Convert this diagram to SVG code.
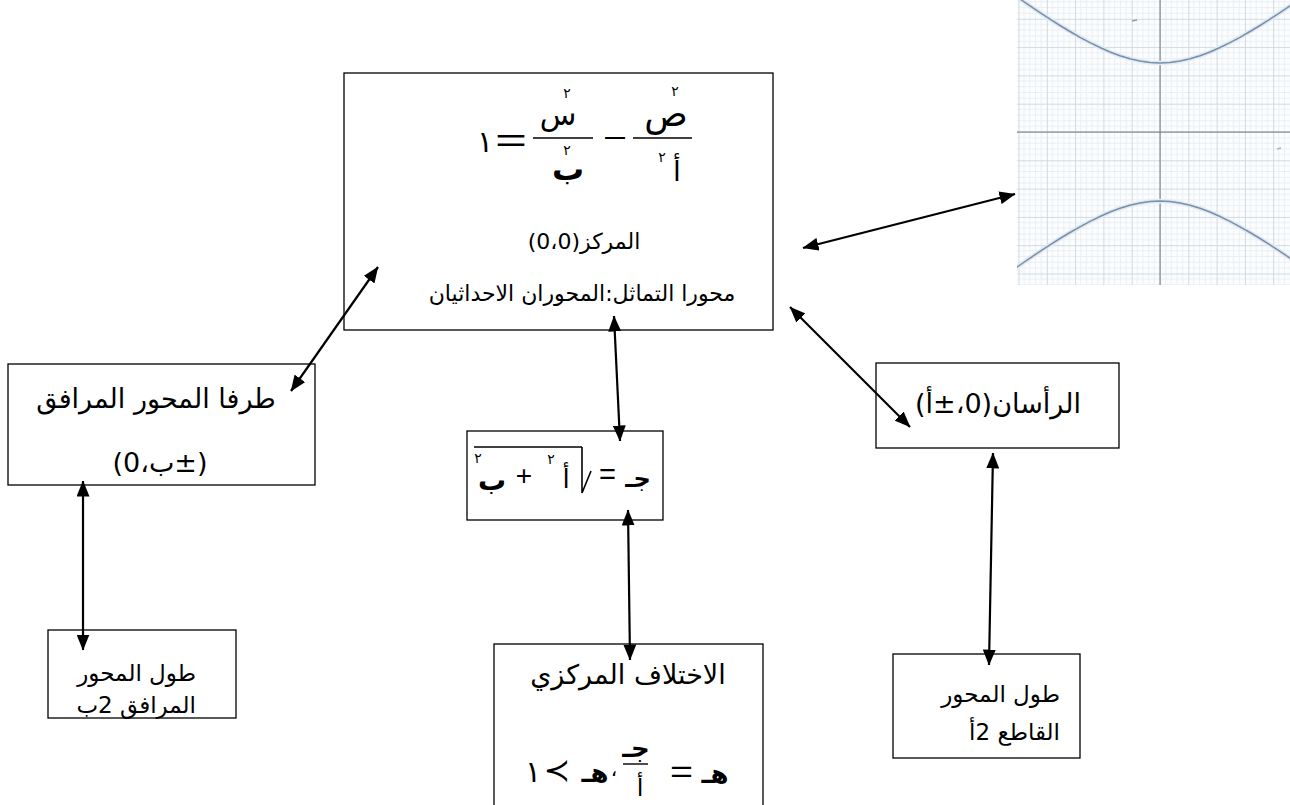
<svg xmlns="http://www.w3.org/2000/svg" width="1290" height="805" viewBox="0 0 1290 805">
  <style>
    .box { fill: #ffffff; stroke: #000000; stroke-width: 1.3; }
    .ar { font-family: "DejaVu Sans", "Noto Sans", sans-serif; fill: #000000; }
    .lat { font-family: "Liberation Sans", "DejaVu Sans", sans-serif; fill: #000000; }
    .math { font-family: "DejaVu Sans", sans-serif; fill: #000000; }
    .bar { stroke: #000000; stroke-width: 1.4; }
    .conn line { stroke: #000000; stroke-width: 2.2; marker-start: url(#ah); marker-end: url(#ah); }
    .grid-minor { stroke: #eaeff3; stroke-width: 1; }
    .grid-major { stroke: #d0d9e1; stroke-width: 1; }
  </style>
  <defs>
    <marker id="ah" viewBox="0 0 16 13" refX="15.5" refY="6.5" markerWidth="16" markerHeight="13" orient="auto-start-reverse" markerUnits="userSpaceOnUse">
      <path d="M0,0 L16,6.5 L0,13 z" fill="#000000"/>
    </marker>
    <pattern id="gridpat" x="1160" y="132" width="28.3" height="28.3" patternUnits="userSpaceOnUse">
      <path class="grid-minor" d="M5.66,0 V28.3 M11.32,0 V28.3 M16.98,0 V28.3 M22.64,0 V28.3 M0,5.66 H28.3 M0,11.32 H28.3 M0,16.98 H28.3 M0,22.64 H28.3"/>
      <path class="grid-major" d="M0.5,0 V28.3 M0,0.5 H28.3"/>
    </pattern>
    <clipPath id="plotclip">
      <rect x="1017" y="0" width="273" height="285"/>
    </clipPath>
  </defs>

  <rect width="1290" height="805" fill="#ffffff"/>

  <!-- hyperbola plot -->
  <g id="plot" clip-path="url(#plotclip)">
    <rect x="1017" y="0" width="273" height="285" fill="#fcfdfe"/>
    <rect x="1017" y="0" width="273" height="285" fill="url(#gridpat)"/>
    <line x1="1160" y1="0" x2="1160" y2="285" stroke="#70767c" stroke-width="1"/>
    <line x1="1017" y1="132" x2="1290" y2="132" stroke="#70767c" stroke-width="1"/>
    <g fill="none" stroke-linejoin="round">
      <polyline stroke="#dfeaf5" stroke-width="4.5" points="1010,-8 1020,-1 1030,5.9 1040,12.6 1050,19.2 1060,25.5 1070,31.5 1080,37.3 1090,42.6 1100,47.5 1110,52 1120,55.7 1130,58.8 1140,61.1 1150,62.5 1160,63 1170,62.5 1180,61.1 1190,58.8 1200,55.7 1210,52 1220,47.5 1230,42.6 1240,37.3 1250,31.5 1260,25.5 1270,19.2 1280,12.6 1290,5.9 1300,-1"/>
      <polyline stroke="#dfeaf5" stroke-width="4.5" points="1010,272 1020,265 1030,258.1 1040,251.4 1050,244.9 1060,238.5 1070,232.5 1080,226.8 1090,221.4 1100,216.5 1110,212 1120,208.3 1130,205.2 1140,202.9 1150,201.5 1160,201 1170,201.5 1180,202.9 1190,205.2 1200,208.3 1210,212 1220,216.5 1230,221.4 1240,226.8 1250,232.5 1260,238.5 1270,244.9 1280,251.4 1290,258.1 1300,265"/>
      <polyline stroke="#7b90a8" stroke-width="1.5" points="1010,-8 1020,-1 1030,5.9 1040,12.6 1050,19.2 1060,25.5 1070,31.5 1080,37.3 1090,42.6 1100,47.5 1110,52 1120,55.7 1130,58.8 1140,61.1 1150,62.5 1160,63 1170,62.5 1180,61.1 1190,58.8 1200,55.7 1210,52 1220,47.5 1230,42.6 1240,37.3 1250,31.5 1260,25.5 1270,19.2 1280,12.6 1290,5.9 1300,-1"/>
      <polyline stroke="#7b90a8" stroke-width="1.5" points="1010,272 1020,265 1030,258.1 1040,251.4 1050,244.9 1060,238.5 1070,232.5 1080,226.8 1090,221.4 1100,216.5 1110,212 1120,208.3 1130,205.2 1140,202.9 1150,201.5 1160,201 1170,201.5 1180,202.9 1190,205.2 1200,208.3 1210,212 1220,216.5 1230,221.4 1240,226.8 1250,232.5 1260,238.5 1270,244.9 1280,251.4 1290,258.1 1300,265"/>
    </g>
    <line x1="1132" y1="21" x2="1137" y2="20" stroke="#9a9a9a" stroke-width="1.5"/>
    <line x1="1277" y1="149" x2="1281" y2="148" stroke="#b0b0b0" stroke-width="1.5"/>
  </g>

  <!-- central equation box -->
  <g id="node-equation">
    <rect class="box" x="344" y="73" width="429" height="257"/>
    <text class="math" x="485" y="152" font-size="30" text-anchor="middle">١</text>
    <text class="lat" x="495" y="152" font-size="34" textLength="32" lengthAdjust="spacingAndGlyphs">=</text>
    <line class="bar" x1="533" y1="138" x2="593" y2="138"/>
    <text class="math"><tspan x="558" y="125" font-size="30" text-anchor="middle">س</tspan><tspan x="567" y="98" font-size="14" text-anchor="middle">٢</tspan></text>
    <text class="math"><tspan x="567" y="155" font-size="14" text-anchor="middle">٢</tspan><tspan x="568" y="180" font-size="32" font-weight="bold" text-anchor="middle">ب</tspan></text>
    <text class="lat" x="603" y="148" font-size="30" textLength="24" lengthAdjust="spacingAndGlyphs">−</text>
    <line class="bar" x1="633" y1="138" x2="692" y2="138"/>
    <text class="math"><tspan x="666" y="126" font-size="36" text-anchor="middle">ص</tspan><tspan x="675" y="96" font-size="14" text-anchor="middle">٢</tspan></text>
    <text class="math"><tspan x="662" y="162" font-size="14" text-anchor="middle">٢</tspan><tspan x="677" y="181" font-size="28" text-anchor="middle">أ</tspan></text>
    <text class="ar" x="584" y="249" font-size="22" text-anchor="middle" direction="rtl">المركز(0،0)</text>
    <text class="ar" x="582" y="301" font-size="22" text-anchor="middle" direction="rtl">محورا التماثل:المحوران الاحداثيان</text>
  </g>

  <!-- conjugate axis endpoints -->
  <g id="node-conjugate-ends">
    <rect class="box" x="8" y="364" width="307" height="121"/>
    <text class="ar" x="156" y="408" font-size="27" text-anchor="middle" direction="rtl">طرفا المحور المرافق</text>
    <text class="ar" x="160" y="472" font-size="27" text-anchor="middle" direction="rtl">(±ب،0)</text>
  </g>

  <!-- focal distance -->
  <g id="node-focal">
    <rect class="box" x="467" y="431" width="196" height="89"/>
    <line class="bar" x1="474" y1="447" x2="582" y2="447"/>
    <text class="math"><tspan x="478" y="463" font-size="14" text-anchor="middle">٢</tspan><tspan x="492" y="490" font-size="28" font-weight="bold" text-anchor="middle">ب</tspan></text>
    <text class="lat" x="524" y="485" font-size="28" text-anchor="middle">+</text>
    <text class="math"><tspan x="551" y="464" font-size="14" text-anchor="middle">٢</tspan><tspan x="566" y="488" font-size="26" text-anchor="middle">أ</tspan></text>
    <path d="M582,447 V493 L591,471" fill="none" stroke="#000" stroke-width="1.6"/>
    <text class="lat" x="599" y="484" font-size="30" textLength="17" lengthAdjust="spacingAndGlyphs">=</text>
    <text class="math" x="638" y="487" font-size="24" font-weight="bold" text-anchor="middle">جـ</text>
  </g>

  <!-- vertices -->
  <g id="node-vertices">
    <rect class="box" x="876" y="363" width="243" height="85"/>
    <text class="ar" x="998" y="413" font-size="27" text-anchor="middle" direction="rtl">الرأسان(0،±أ)</text>
  </g>

  <!-- conjugate axis length -->
  <g id="node-conjugate-length">
    <rect class="box" x="48" y="630" width="188" height="88"/>
    <text class="ar" x="196" y="681" font-size="23" direction="rtl">طول المحور</text>
    <text class="ar" x="196" y="713" font-size="23" direction="rtl">المرافق 2ب</text>
  </g>

  <!-- eccentricity -->
  <g id="node-eccentricity">
    <rect class="box" x="494" y="644" width="269" height="175"/>
    <text class="ar" x="628" y="684" font-size="27" text-anchor="middle" direction="rtl">الاختلاف المركزي</text>
    <text class="math" x="533" y="782" font-size="30" text-anchor="middle">١</text>
    <text class="lat" x="557" y="781" font-size="32" text-anchor="middle">≺</text>
    <text class="math" x="595" y="782" font-size="26" font-weight="bold" text-anchor="middle">هـ</text>
    <text class="math" x="614" y="776" font-size="20" text-anchor="middle">،</text>
    <text class="math" x="636" y="757" font-size="26" font-weight="bold" text-anchor="middle">جـ</text>
    <line class="bar" x1="623" y1="764" x2="648" y2="764"/>
    <text class="math" x="640" y="796" font-size="24" text-anchor="middle">أ</text>
    <text class="lat" x="670" y="782" font-size="32" textLength="23" lengthAdjust="spacingAndGlyphs">=</text>
    <text class="math" x="715" y="783" font-size="26" font-weight="bold" text-anchor="middle">هـ</text>
  </g>

  <!-- transverse axis length -->
  <g id="node-transverse-length">
    <rect class="box" x="893" y="654" width="187" height="104"/>
    <text class="ar" x="1060" y="702" font-size="23" direction="rtl">طول المحور</text>
    <text class="ar" x="1060" y="740" font-size="23" direction="rtl">القاطع 2أ</text>
  </g>

  <!-- connectors -->
  <g id="connectors" class="conn">
    <line x1="803" y1="248" x2="1015" y2="194"/>
    <line x1="378" y1="267" x2="291" y2="391"/>
    <line x1="614" y1="316" x2="620" y2="441"/>
    <line x1="790" y1="307" x2="910" y2="427"/>
    <line x1="83" y1="481" x2="83" y2="650"/>
    <line x1="628" y1="510" x2="630" y2="660"/>
    <line x1="993" y1="453" x2="989" y2="665"/>
  </g>
</svg>
